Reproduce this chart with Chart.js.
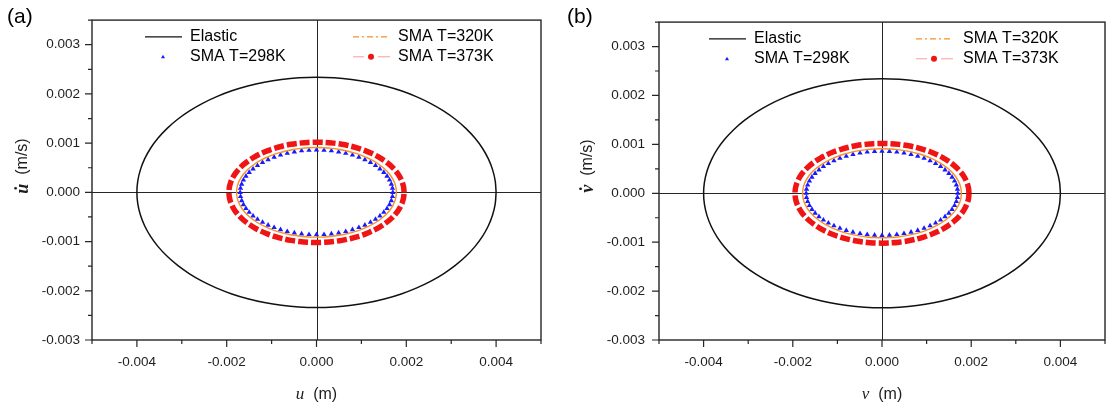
<!DOCTYPE html>
<html>
<head>
<meta charset="utf-8">
<script src="https://cdn.jsdelivr.net/npm/chart.js@4/dist/chart.umd.min.js"></script>
<style>
  html, body { margin: 0; padding: 0; background: #fff; }
  .panel { position: absolute; top: 0; }
</style>
</head>
<body>
<canvas id="chart-a" class="panel" width="555" height="406" style="left:0"></canvas>
<canvas id="chart-b" class="panel" width="554" height="406" style="left:555px"></canvas>
<script>
  // tick labels / tick marks
  const xTicks = [-0.004, -0.002, 0, 0.002, 0.004];
  const xMinorTicks = [-0.005, -0.003, -0.001, 0.001, 0.003, 0.005];
  const yTicks = [-0.003, -0.002, -0.001, 0, 0.001, 0.002, 0.003];
  const yMinorTicks = [-0.0025, -0.0015, -0.0005, 0.0005, 0.0015, 0.0025, 0.0035];

  const seriesNames = ["Elastic", "SMA T=298K", "SMA T=320K", "SMA T=373K"];

  // one quarter of each orbit (from the x axis up to the y axis),
  // read off the picture, in units of 1e-3 (m and m/s)
  const elasticXq = [4.000, 3.981, 3.923, 3.828, 3.696, 3.528, 3.326, 3.092, 2.828,
                     2.538, 2.222, 1.886, 1.531, 1.161, 0.780, 0.392, 0];
  const elasticYq = [0, 0.229, 0.457, 0.679, 0.896, 1.103, 1.300, 1.485, 1.655,
                     1.809, 1.946, 2.064, 2.162, 2.239, 2.295, 2.329, 2.340];

  const sma298Xq = [1.700, 1.692, 1.667, 1.627, 1.571, 1.499, 1.413, 1.314, 1.202,
                    1.078, 0.944, 0.801, 0.651, 0.493, 0.332, 0.167, 0];
  const sma298Yq = [0, 0.084, 0.168, 0.250, 0.329, 0.405, 0.478, 0.546, 0.608,
                    0.665, 0.715, 0.759, 0.795, 0.823, 0.844, 0.856, 0.860];

  const sma320Xq = [1.780, 1.771, 1.746, 1.703, 1.645, 1.570, 1.480, 1.376, 1.259,
                    1.129, 0.989, 0.839, 0.681, 0.517, 0.347, 0.174, 0];
  const sma320Yq = [0, 0.089, 0.178, 0.264, 0.348, 0.429, 0.506, 0.577, 0.643,
                    0.703, 0.757, 0.803, 0.841, 0.871, 0.893, 0.906, 0.910];

  const sma373Xq = [1.950, 1.941, 1.913, 1.866, 1.802, 1.720, 1.621, 1.507, 1.379,
                    1.237, 1.083, 0.919, 0.746, 0.566, 0.380, 0.191, 0];
  const sma373Yq = [0, 0.100, 0.199, 0.296, 0.390, 0.481, 0.567, 0.647, 0.721,
                    0.788, 0.848, 0.900, 0.942, 0.976, 1.000, 1.015, 1.020];

  const colors = {
    axis: "#262626",
    text: "#1e1e1e",
    elastic: "#111111",
    sma298: "#1a1aff",
    sma320: "#f59126",
    sma373: "#f01414",
    sma373Line: "#ff9a9a",
  };
  const sansFont = '"Liberation Sans", Arial, Helvetica, sans-serif';
  const serifFont = '"Liberation Serif", "Times New Roman", serif';

  // mirror a quarter into a closed orbit (last point == first point)
  function closedOrbit(xq, yq) {
    const n = xq.length - 1;
    const pts = [];
    for (let i = 0; i <= n; i++) pts.push([xq[i], yq[i]]);
    for (let i = n - 1; i >= 0; i--) pts.push([-xq[i], yq[i]]);
    for (let i = 1; i <= n; i++) pts.push([-xq[i], -yq[i]]);
    for (let i = n - 1; i >= 0; i--) pts.push([xq[i], -yq[i]]);
    return pts.map((p) => ({ x: p[0] / 1000, y: p[1] / 1000 }));
  }

  function drawTitle(ctx, parts, cx, cy, rotate) {
    ctx.save();
    ctx.translate(cx, cy);
    if (rotate) ctx.rotate(-Math.PI / 2);
    const widths = parts.map((p) => {
      ctx.font = p.font;
      return ctx.measureText(p.text).width;
    });
    let x = -widths.reduce((s, w) => s + w, 0) / 2;
    ctx.textAlign = "left";
    ctx.textBaseline = "middle";
    ctx.fillStyle = colors.text;
    parts.forEach((p, i) => {
      ctx.font = p.font;
      ctx.fillText(p.text, x, 0);
      x += widths[i];
    });
    ctx.restore();
  }

  const panelDecor = {
    id: "panelDecor",
    beforeDatasetsDraw(chart, args, o) {
      const { ctx, chartArea: a } = chart;
      const x0 = Math.round(chart.scales.x.getPixelForValue(0)) + 0.5;
      const y0 = Math.round(chart.scales.y.getPixelForValue(0)) + 0.5;
      ctx.save();
      ctx.strokeStyle = colors.axis;
      ctx.lineWidth = 1;
      ctx.beginPath();
      ctx.moveTo(x0, a.top);
      ctx.lineTo(x0, a.bottom);
      ctx.moveTo(a.left, y0);
      ctx.lineTo(a.right, y0);
      ctx.stroke();
      ctx.restore();
    },
    afterDraw(chart, args, o) {
      const { ctx, chartArea: a } = chart;
      const xs = chart.scales.x;
      const ys = chart.scales.y;
      ctx.save();

      // frame + outward ticks
      ctx.strokeStyle = colors.axis;
      ctx.lineWidth = 1.4;
      ctx.strokeRect(a.left, a.top, a.right - a.left, a.bottom - a.top);
      ctx.lineWidth = 1.2;
      ctx.beginPath();
      xTicks.forEach((v) => {
        const px = xs.getPixelForValue(v);
        ctx.moveTo(px, a.bottom);
        ctx.lineTo(px, a.bottom + 7);
      });
      xMinorTicks.forEach((v) => {
        const px = xs.getPixelForValue(v);
        ctx.moveTo(px, a.bottom);
        ctx.lineTo(px, a.bottom + 4);
      });
      yTicks.forEach((v) => {
        const py = ys.getPixelForValue(v);
        ctx.moveTo(a.left, py);
        ctx.lineTo(a.left - 7, py);
      });
      yMinorTicks.forEach((v) => {
        const py = ys.getPixelForValue(v);
        ctx.moveTo(a.left, py);
        ctx.lineTo(a.left - 4, py);
      });
      ctx.stroke();

      // legend, two columns inside the plot
      const [c1Line, c1Text, c2Line, c2Text] = o.legendX;
      const L = a.left;
      const r1 = a.top + 16.7;
      const r2 = a.top + 36.7;
      ctx.font = "16px " + sansFont;
      ctx.fillStyle = "#000";
      ctx.textAlign = "left";
      ctx.textBaseline = "middle";
      ctx.fillText(seriesNames[0], L + c1Text, r1);
      ctx.fillText(seriesNames[1], L + c1Text, r2);
      ctx.fillText(seriesNames[2], L + c2Text, r1);
      ctx.fillText(seriesNames[3], L + c2Text, r2);

      ctx.lineWidth = 1.3;
      ctx.strokeStyle = colors.elastic;
      ctx.beginPath();
      ctx.moveTo(L + c1Line, r1);
      ctx.lineTo(L + c1Line + 37, r1);
      ctx.stroke();

      const tx = L + c1Line + 18;
      ctx.fillStyle = colors.sma298;
      ctx.beginPath();
      ctx.moveTo(tx, r2 - 2);
      ctx.lineTo(tx + 2, r2 + 1.5);
      ctx.lineTo(tx - 2, r2 + 1.5);
      ctx.closePath();
      ctx.fill();

      ctx.strokeStyle = colors.sma320;
      ctx.setLineDash([6, 3, 2, 3]);
      ctx.beginPath();
      ctx.moveTo(L + c2Line, r1);
      ctx.lineTo(L + c2Line + 37, r1);
      ctx.stroke();
      ctx.setLineDash([]);

      ctx.strokeStyle = colors.sma373Line;
      ctx.lineWidth = 1;
      ctx.beginPath();
      ctx.moveTo(L + c2Line, r2);
      ctx.lineTo(L + c2Line + 11, r2);
      ctx.moveTo(L + c2Line + 25, r2);
      ctx.lineTo(L + c2Line + 37, r2);
      ctx.stroke();
      ctx.fillStyle = colors.sma373;
      ctx.beginPath();
      ctx.arc(L + c2Line + 18, r2, 3, 0, Math.PI * 2);
      ctx.fill();

      // axis titles and panel tag
      const cx = (a.left + a.right) / 2;
      drawTitle(ctx, [
        { text: o.xVar, font: "italic 17px " + serifFont },
        { text: "  (m)", font: "16px " + sansFont },
      ], cx, 395, false);
      drawTitle(ctx, [
        { text: o.xVar + "\u0307", font: "italic bold 18px " + serifFont },
        { text: "  (m/s)", font: "16px " + sansFont },
      ], o.yTitleX, 166, true);

      ctx.font = "21px " + sansFont;
      ctx.fillStyle = "#000";
      ctx.textAlign = "left";
      ctx.textBaseline = "alphabetic";
      ctx.fillText(o.tag, o.tagX, 23);
      ctx.restore();
    },
  };

  function makeChart(id, cfg) {
    const tickFont = { family: sansFont, size: 13.5 };
    return new Chart(document.getElementById(id), {
      type: "scatter",
      data: {
        datasets: [
          {
            label: seriesNames[0],
            data: closedOrbit(elasticXq, elasticYq),
            showLine: true,
            tension: 0.3,
            borderColor: colors.elastic,
            borderWidth: 1.5,
            pointRadius: 0,
          },
          {
            label: seriesNames[3],
            data: closedOrbit(sma373Xq, sma373Yq),
            showLine: true,
            tension: 0.3,
            borderColor: colors.sma373,
            borderWidth: 5.5,
            borderDash: [10, 3],
            borderCapStyle: "butt",
            pointRadius: 0,
          },
          {
            label: seriesNames[2],
            data: closedOrbit(sma320Xq, sma320Yq),
            showLine: true,
            tension: 0.3,
            borderColor: colors.sma320,
            borderWidth: 1.4,
            pointRadius: 0,
          },
          {
            label: seriesNames[1],
            data: closedOrbit(sma298Xq, sma298Yq).slice(0, -1),
            showLine: false,
            pointStyle: "triangle",
            pointRadius: 3.1,
            pointBorderWidth: 0,
            pointBackgroundColor: colors.sma298,
            pointBorderColor: colors.sma298,
          },
        ],
      },
      options: {
        responsive: false,
        animation: false,
        devicePixelRatio: 1,
        layout: { padding: { left: 0, top: 11, right: cfg.padRight, bottom: 0 } },
        plugins: {
          legend: { display: false },
          tooltip: { enabled: false },
          panelDecor: cfg,
        },
        scales: {
          x: {
            type: "linear",
            min: -0.005,
            max: 0.005,
            afterBuildTicks: (s) => { s.ticks = xTicks.map((v) => ({ value: v })); },
            afterFit: (s) => { s.height = 66; },
            grid: { display: false, drawTicks: false },
            border: { display: false },
            ticks: {
              padding: 14,
              autoSkip: false,
              maxRotation: 0,
              color: colors.text,
              font: tickFont,
              callback: (v) => Number(v).toFixed(3),
            },
          },
          y: {
            type: "linear",
            min: -0.003,
            max: 0.0035,
            afterBuildTicks: (s) => { s.ticks = yTicks.map((v) => ({ value: v })); },
            afterFit: (s) => { s.width = cfg.yWidth; },
            grid: { display: false, drawTicks: false },
            border: { display: false },
            ticks: {
              padding: cfg.yPad,
              autoSkip: false,
              color: colors.text,
              font: tickFont,
              callback: (v) => Number(v).toFixed(3),
            },
          },
        },
      },
      plugins: [panelDecor],
    });
  }

  makeChart("chart-a", {
    tag: "(a)", tagX: 7, xVar: "u", yTitleX: 23,
    yWidth: 92, yPad: 12, padRight: 14,
    legendX: [53, 98, 261, 306],
  });
  makeChart("chart-b", {
    tag: "(b)", tagX: 12, xVar: "v", yTitleX: 33,
    yWidth: 104, yPad: 14, padRight: 3,
    legendX: [50, 95, 257, 304],
  });
</script>
</body>
</html>
